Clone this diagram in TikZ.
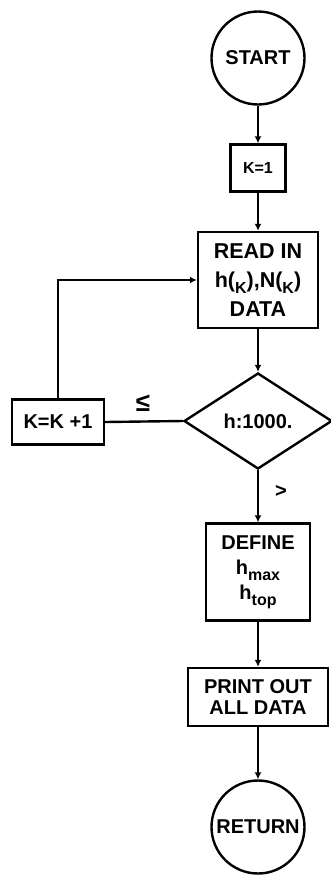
\documentclass[tikz,border=0pt]{standalone}
\usepackage{fontspec}
\setmainfont{Liberation Sans}
\usetikzlibrary{shapes.geometric,arrows.meta}
\newcommand{\lowsub}[1]{\raisebox{-0.28em}{\fontsize{16}{16}\selectfont #1}}
\begin{document}
\begin{tikzpicture}[x=1pt,y=-1pt, line width=2.4pt,
  box/.style={draw, rectangle, inner sep=0pt, align=center, font=\bfseries\fontsize{20}{22}\selectfont},
  term/.style={draw, circle, inner sep=0pt, minimum size=93pt, font=\bfseries\fontsize{20}{22}\selectfont},
  decision/.style={draw, diamond, aspect=1.52, inner sep=0pt, minimum width=148pt, minimum height=96pt, font=\bfseries\fontsize{20}{22}\selectfont},
  arr/.style={-{Latex[length=7pt,width=7pt]}},
  lbl/.style={inner sep=0pt, font=\bfseries\fontsize{20}{22}\selectfont}]
\useasboundingbox (0,0) rectangle (331,879);
\node[term] (start) at (258,58) {START};
\node[box, minimum width=55pt, minimum height=47pt, font=\bfseries\fontsize{16}{18}\selectfont] (k1) at (258,168) {K=1};
\node[box, minimum width=120pt, minimum height=96pt, font=\bfseries\fontsize{21.5}{29}\selectfont] (read) at (258,280) {READ IN\\h(\lowsub{K}),N(\lowsub{K})\\DATA};
\node[decision] (dec) at (258,421) {h:1000.};
\node[box, minimum width=92pt, minimum height=45pt] (kk) at (58,422) {K=K +1};
\node[box, minimum width=104pt, minimum height=97pt, font=\bfseries\fontsize{20}{25}\selectfont] (def) at (258,572) {DEFINE\\h\lowsub{max}\\h\lowsub{top}};
\node[box, minimum width=140pt, minimum height=58pt, font=\bfseries\fontsize{20}{21}\selectfont] (print) at (258,697) {PRINT OUT\\ALL DATA};
\node[term] (ret) at (258,827) {RETURN};
\node[lbl, font=\bfseries\fontsize{26}{28}\selectfont] (le) at (143,403) {≤};
\node[lbl] (gt) at (281,491) {>};
\draw[arr] (start) -- (k1);
\draw[arr] (k1) -- (read);
\draw[arr] (read) -- (dec);
\draw (dec.west) -- (kk.east);
\draw[arr] (kk.north) |- (read.west);
\draw[arr] (dec.south) -- (def.north);
\draw[arr] (def) -- (print);
\draw[arr] (print) -- (ret);
\end{tikzpicture}
\end{document}
